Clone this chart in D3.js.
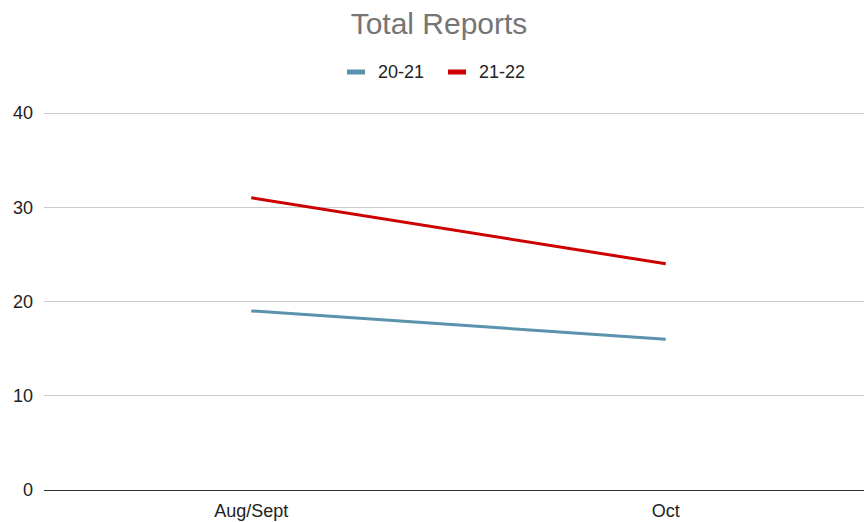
<!DOCTYPE html>
<html><head><meta charset="utf-8">
<script src="https://cdn.jsdelivr.net/npm/d3@7"></script>
<style>body{margin:0;background:#fff}svg{display:block;font-family:"Liberation Sans",Arial,sans-serif}</style>
</head><body><svg id="c" width="864" height="522"></svg>
<script>
const categories = ["Aug/Sept", "Oct"];
const seriesNames = ["20-21", "21-22"];
const values2021 = [19, 16];
const values2122 = [31, 24];
const yTicks = [0, 10, 20, 30, 40];
const colors = ["#5b92ae", "#cc0000"];
const title = "Total Reports";

const svg = d3.select("#c");
const W = 864, H = 522;
const m = {left: 44, right: -9, top: 113, bottom: 32};
const x = d3.scaleBand().domain(categories).range([m.left, W - m.right]);
const y = d3.scaleLinear().domain([0, 40]).range([H - m.bottom, m.top]);

// gridlines
svg.append("g").selectAll("line").data(yTicks.filter(d => d !== 0)).join("line")
  .attr("x1", m.left).attr("x2", W).attr("y1", d => y(d)).attr("y2", d => y(d))
  .attr("stroke", "#cccccc").attr("stroke-width", 1).attr("shape-rendering", "crispEdges");
svg.append("line").attr("x1", m.left).attr("x2", W).attr("y1", y(0)).attr("y2", y(0))
  .attr("stroke", "#333").attr("stroke-width", 1).attr("shape-rendering", "crispEdges");

// y labels
svg.append("g").selectAll("text").data(yTicks).join("text")
  .attr("x", 33).attr("y", d => y(d)).attr("dy", "0.35em").attr("text-anchor", "end")
  .attr("font-size", 18).attr("fill", "#222").text(d => d);

// x labels
svg.append("g").selectAll("text").data(categories).join("text")
  .attr("x", d => x(d) + x.bandwidth() / 2).attr("y", 517).attr("text-anchor", "middle")
  .attr("font-size", 18).attr("fill", "#222").text(d => d);

// lines
const series = [values2021, values2122];
const line = d3.line().x((d, i) => x(categories[i]) + x.bandwidth() / 2).y(d => y(d));
series.forEach((vals, k) => {
  svg.append("path").datum(vals).attr("d", line).attr("fill", "none")
    .attr("stroke", colors[k]).attr("stroke-width", 3);
});

// title
svg.append("text").attr("x", 439).attr("y", 34).attr("text-anchor", "middle")
  .attr("font-size", 30).attr("fill", "#757575").text(title);

// legend
const legX = [347, 448];
seriesNames.forEach((n, k) => {
  svg.append("rect").attr("x", legX[k]).attr("y", 69.5).attr("width", 18).attr("height", 5).attr("fill", colors[k]);
  svg.append("text").attr("x", legX[k] + 31).attr("y", 72).attr("dy", "0.35em")
    .attr("font-size", 18).attr("fill", "#222").text(n);
});
</script></body></html>
